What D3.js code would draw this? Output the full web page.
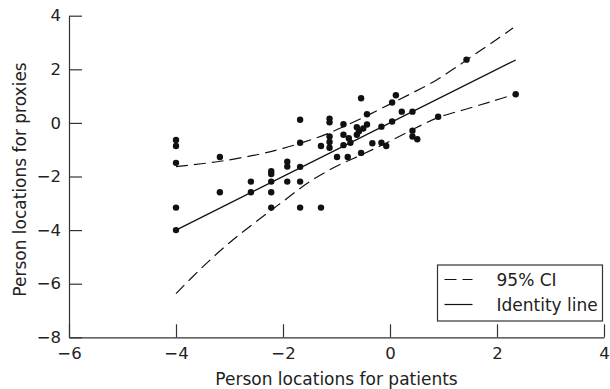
<!DOCTYPE html>
<html>
<head>
<meta charset="utf-8">
<script src="https://cdn.jsdelivr.net/npm/d3@7"></script>
<style>
  body { margin: 0; background: #fff; }
  text { font-family: "DejaVu Sans", sans-serif; fill: #222; }
</style>
</head>
<body>
<div id="vis"></div>
<script>
// Tick values
const xTicks = [-6, -4, -2, 0, 2, 4];
const yTicks = [-8, -6, -4, -2, 0, 2, 4];

// Scatter points: patient location, proxy location
const patients = [-4, -4, -4, -4, -4,
    -3.18, -3.18,
    -2.6, -2.6,
    -2.22, -2.22, -2.22, -2.22, -2.22,
    -1.92, -1.92, -1.92,
    -1.68, -1.68, -1.68, -1.68, -1.68,
    -1.29, -1.29,
    -1.13, -1.13, -1.13, -1.13, -1.13,
    -0.99,
    -0.87, -0.87, -0.87,
    -0.79, -0.77, -0.74,
    -0.62, -0.62, -0.58,
    -0.54, -0.54, -0.5,
    -0.43, -0.43, -0.33,
    -0.16, -0.16, -0.07,
    0.04, 0.04, 0.11, 0.22,
    0.42, 0.42, 0.42, 0.51,
    0.9, 1.43, 2.35];
const proxies = [-0.64, -0.86, -1.49, -3.16, -4.0,
    -1.27, -2.59,
    -2.19, -2.59,
    -1.8, -1.91, -2.19, -2.59, -3.16,
    -1.45, -1.63, -2.19,
    0.12, -0.74, -1.64, -2.19, -3.16,
    -0.86, -3.16,
    0.16, 0.02, -0.51, -0.71, -0.93,
    -1.27,
    -0.05, -0.44, -0.83,
    -1.27, -0.57, -0.74,
    -0.16, -0.44, -0.31,
    0.92, -1.12, -0.21,
    0.32, -0.06, -0.76,
    -0.14, -0.74, -0.86,
    0.76, 0.05, 1.03, 0.42,
    0.42, -0.29, -0.51, -0.61,
    0.23, 2.36, 1.07];

// Identity line end points
const identityX = [-4, 2.35];
const identityY = [-4, 2.35];

// 95% CI bands
const ciUpperX = [-4, -3.2, -2.4, -2.0, -1.6, -1.2, -0.8, -0.4, 0, 0.4, 0.8, 1.2, 1.6, 2.0, 2.3];
const ciUpperY = [-1.63, -1.44, -1.15, -0.95, -0.71, -0.43, -0.08, 0.3, 0.7, 1.1, 1.52, 2.03, 2.58, 3.12, 3.54];
const ciLowerX = [-4, -3.5, -3.0, -2.5, -2.0, -1.5, -1.0, -0.5, 0, 0.45, 0.9, 1.4, 1.9, 2.35];
const ciLowerY = [-6.37, -5.37, -4.47, -3.68, -2.93, -2.19, -1.62, -1.16, -0.68, -0.22, 0.2, 0.5, 0.8, 1.08];

const legendLabels = ["95% CI", "Identity line"];

const width = 610;
const height = 389;

const svg = d3.select("#vis").append("svg")
    .attr("width", width)
    .attr("height", height);

const x = d3.scaleLinear().domain([-6, 4]).range([69, 604]);
const y = d3.scaleLinear().domain([-8, 4]).range([337.3, 15.7]);

const axisColor = "#333";

// axes, ticks point inward
const xAxis = svg.append("g")
    .attr("transform", `translate(0,${y(-8)})`)
    .call(d3.axisBottom(x).tickValues(xTicks).tickSizeInner(-13).tickSizeOuter(0).tickPadding(10));
const yAxis = svg.append("g")
    .attr("transform", `translate(${x(-6)},0)`)
    .call(d3.axisLeft(y).tickValues(yTicks).tickSizeInner(-13).tickSizeOuter(0).tickPadding(8));

[xAxis, yAxis].forEach(a => {
    a.selectAll("path, line").attr("stroke", axisColor).attr("stroke-width", 1.2);
    a.selectAll("text").attr("font-size", 16.5).attr("font-family", "DejaVu Sans").attr("fill", "#222");
});

svg.append("text")
    .attr("x", (x(-6) + x(4)) / 2)
    .attr("y", 385)
    .attr("text-anchor", "middle")
    .attr("font-size", 17)
    .text("Person locations for patients");

svg.append("text")
    .attr("transform", `translate(26,${(y(-8) + y(4)) / 2 + 3}) rotate(-90)`)
    .attr("text-anchor", "middle")
    .attr("font-size", 17)
    .text("Person locations for proxies");

const line = d3.line()
    .x(d => x(d[0]))
    .y(d => y(d[1]));
const curve = d3.line()
    .x(d => x(d[0]))
    .y(d => y(d[1]))
    .curve(d3.curveCatmullRom.alpha(0.5));

const dash = "12,6";

svg.append("path")
    .attr("d", curve(d3.zip(ciUpperX, ciUpperY)))
    .attr("fill", "none").attr("stroke", "#111").attr("stroke-width", 1.2)
    .attr("stroke-dasharray", dash);
svg.append("path")
    .attr("d", curve(d3.zip(ciLowerX, ciLowerY)))
    .attr("fill", "none").attr("stroke", "#111").attr("stroke-width", 1.2)
    .attr("stroke-dasharray", dash);
svg.append("path")
    .attr("d", line(d3.zip(identityX, identityY)))
    .attr("fill", "none").attr("stroke", "#111").attr("stroke-width", 1.2);

svg.append("g")
    .selectAll("circle")
    .data(d3.zip(patients, proxies))
    .join("circle")
    .attr("cx", d => x(d[0]))
    .attr("cy", d => y(d[1]))
    .attr("r", 3.2)
    .attr("fill", "#111");

// legend
const legend = svg.append("g").attr("transform", "translate(437.5,265)");
legend.append("rect")
    .attr("width", 165).attr("height", 56)
    .attr("fill", "#fff").attr("stroke", axisColor).attr("stroke-width", 1.2);

legendLabels.forEach((label, i) => {
    const ly = 14.5 + i * 25;
    legend.append("line")
        .attr("x1", 7).attr("x2", 35)
        .attr("y1", ly).attr("y2", ly)
        .attr("stroke", "#111").attr("stroke-width", 1.2)
        .attr("stroke-dasharray", i === 0 ? dash : null);
    legend.append("text")
        .attr("x", 59).attr("y", ly + 6.5)
        .attr("font-size", 17)
        .text(label);
});
</script>
</body>
</html>
